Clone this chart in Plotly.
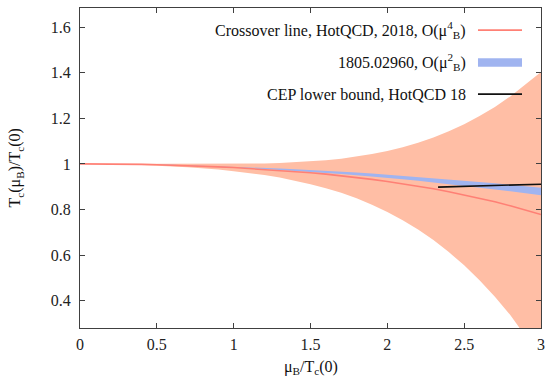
import plotly.graph_objects as go

# mu_B / T_c(0)
mu = [0.0, 0.1, 0.2, 0.3, 0.4, 0.5, 0.6, 0.7, 0.8, 0.9, 1.0,
      1.1, 1.2, 1.3, 1.4, 1.5, 1.6, 1.7, 1.8, 1.9, 2.0,
      2.1, 2.2, 2.3, 2.4, 2.5, 2.6, 2.7, 2.8, 2.9, 3.0]

# Crossover line, HotQCD 2018, O(mu^4): central value and band
hot_center = [1.000, 1.000, 0.999, 0.999, 0.998, 0.996, 0.9945, 0.992, 0.990, 0.987, 0.984,
              0.980, 0.976, 0.972, 0.967, 0.961, 0.955, 0.948, 0.940, 0.932, 0.923,
              0.913, 0.902, 0.891, 0.878, 0.864, 0.850, 0.834, 0.816, 0.798, 0.778]
hot_upper = [1.000, 1.000, 1.000, 1.000, 1.000, 1.000, 1.000, 1.000, 1.000, 1.000, 1.000,
             1.001, 1.002, 1.004, 1.007, 1.011, 1.016, 1.023, 1.032, 1.043, 1.057,
             1.073, 1.093, 1.116, 1.143, 1.174, 1.210, 1.250, 1.296, 1.348, 1.403]
hot_lower = [1.000, 1.000, 0.999, 0.997, 0.995, 0.993, 0.989, 0.985, 0.981, 0.975, 0.968,
             0.960, 0.951, 0.940, 0.927, 0.911, 0.893, 0.873, 0.849, 0.821, 0.789,
             0.753, 0.712, 0.666, 0.613, 0.555, 0.490, 0.417, 0.337, 0.248, 0.149]

# 1805.02960, O(mu^2) band
o2_upper = [1.000, 1.000, 1.000, 0.999, 0.998, 0.997, 0.996, 0.994, 0.993, 0.991, 0.988,
            0.986, 0.983, 0.980, 0.977, 0.974, 0.970, 0.966, 0.962, 0.958, 0.953,
            0.948, 0.943, 0.938, 0.933, 0.927, 0.921, 0.915, 0.908, 0.902, 0.895]
o2_lower = [1.000, 1.000, 0.999, 0.999, 0.998, 0.996, 0.994, 0.992, 0.990, 0.988, 0.985,
            0.981, 0.978, 0.974, 0.970, 0.966, 0.961, 0.956, 0.950, 0.945, 0.939,
            0.933, 0.926, 0.919, 0.912, 0.904, 0.897, 0.888, 0.880, 0.871, 0.862]

# CEP lower bound, HotQCD 18
cep_mu = [2.33, 3.0]
cep_t = [0.898, 0.911]

legend_labels = ["Crossover line, HotQCD, 2018, O(μ<sup>4</sup><sub>B</sub>)",
                 "1805.02960, O(μ<sup>2</sup><sub>B</sub>)",
                 "CEP lower bound, HotQCD 18"]

ORANGE = "#FFBEA5"
BLUE = "#A0B4F0"
RED = "#FF8075"
BLACK = "#111111"
FONT = "Liberation Serif, Times New Roman, serif"
FS = 16

fig = go.Figure()
fig.add_trace(go.Scatter(x=mu, y=hot_lower, mode="lines", line=dict(width=0, color=ORANGE),
                         showlegend=False, hoverinfo="skip"))
fig.add_trace(go.Scatter(x=mu, y=hot_upper, mode="lines", line=dict(width=0, color=ORANGE),
                         fill="tonexty", fillcolor=ORANGE, showlegend=False, hoverinfo="skip"))
fig.add_trace(go.Scatter(x=mu, y=o2_lower, mode="lines", line=dict(width=0, color=BLUE),
                         showlegend=False, hoverinfo="skip"))
fig.add_trace(go.Scatter(x=mu, y=o2_upper, mode="lines", line=dict(width=0, color=BLUE),
                         fill="tonexty", fillcolor=BLUE, showlegend=False, hoverinfo="skip"))
fig.add_trace(go.Scatter(x=mu, y=hot_center, mode="lines", line=dict(width=1.6, color=RED),
                         showlegend=False))
fig.add_trace(go.Scatter(x=cep_mu, y=cep_t, mode="lines", line=dict(width=1.6, color=BLACK),
                         showlegend=False))

axis_common = dict(showline=True, mirror="ticks", linecolor="#404040", linewidth=1.2,
                   ticks="inside", ticklen=5, tickwidth=1, tickcolor="#404040",
                   showgrid=False, zeroline=False, automargin=False,
                   tickfont=dict(family=FONT, size=FS, color="#222"))

fig.update_xaxes(range=[0, 3], tickvals=[0, 0.5, 1, 1.5, 2, 2.5, 3],
                 ticktext=["0", "0.5", "1", "1.5", "2", "2.5", "3"],
                 ticklabelstandoff=2, **axis_common)
fig.update_yaxes(range=[0.28, 1.684], tickvals=[0.4, 0.6, 0.8, 1.0, 1.2, 1.4, 1.6],
                 ticktext=["0.4", "0.6", "0.8", "1", "1.2", "1.4", "1.6"],
                 ticklabelstandoff=5, **axis_common)

# gnuplot-style key: text right-aligned, sample to the right
rows_y = [0.931, 0.831, 0.731]
key_x_text = 0.8416
key_x0, key_x1 = 0.8633, 0.9588
annotations = []
for lab, yy in zip(legend_labels, rows_y):
    annotations.append(dict(x=key_x_text, y=yy, xref="paper", yref="paper", text=lab,
                            showarrow=False, xanchor="right", yanchor="middle",
                            font=dict(family=FONT, size=FS, color="#111")))
annotations.append(dict(x=-0.14, y=0.5, xref="paper", yref="paper",
                        text="T<sub>c</sub>(μ<sub>B</sub>)/T<sub>c</sub>(0)",
                        showarrow=False, textangle=-90, xanchor="center", yanchor="middle",
                        font=dict(family=FONT, size=FS, color="#111")))
annotations.append(dict(x=0.5, y=-0.124, xref="paper", yref="paper",
                        text="μ<sub>B</sub>/T<sub>c</sub>(0)",
                        showarrow=False, xanchor="center", yanchor="middle",
                        font=dict(family=FONT, size=FS, color="#111")))

shapes = [
    dict(type="line", xref="paper", yref="paper", x0=key_x0, x1=key_x1, y0=rows_y[0], y1=rows_y[0],
         line=dict(color=RED, width=1.6)),
    dict(type="rect", xref="paper", yref="paper", x0=key_x0, x1=key_x1, y0=0.8166, y1=0.8428,
         fillcolor=BLUE, line=dict(width=0)),
    dict(type="line", xref="paper", yref="paper", x0=key_x0, x1=key_x1, y0=rows_y[2], y1=rows_y[2],
         line=dict(color=BLACK, width=1.6)),
]

fig.update_layout(width=546, height=377, margin=dict(l=80, r=5, t=8, b=49),
                  paper_bgcolor="white", plot_bgcolor="white",
                  font=dict(family=FONT, size=FS, color="#111"),
                  annotations=annotations, shapes=shapes, showlegend=False)

fig.write_html("out.html")
